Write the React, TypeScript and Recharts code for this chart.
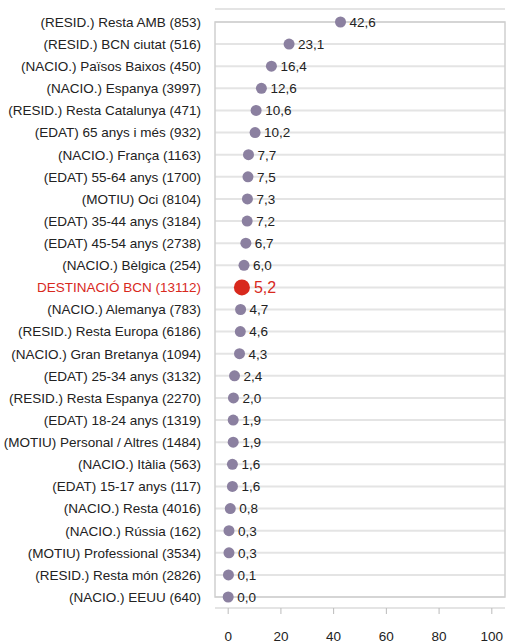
import { ComposedChart, Line, XAxis, YAxis, CartesianGrid, ReferenceArea, LabelList } from 'recharts';

const categories = [
  '(RESID.) Resta AMB (853)',
  '(RESID.) BCN ciutat (516)',
  '(NACIO.) Països Baixos (450)',
  '(NACIO.) Espanya (3997)',
  '(RESID.) Resta Catalunya (471)',
  '(EDAT) 65 anys i més (932)',
  '(NACIO.) França (1163)',
  '(EDAT) 55-64 anys (1700)',
  '(MOTIU) Oci (8104)',
  '(EDAT) 35-44 anys (3184)',
  '(EDAT) 45-54 anys (2738)',
  '(NACIO.) Bèlgica (254)',
  'DESTINACIÓ BCN (13112)',
  '(NACIO.) Alemanya (783)',
  '(RESID.) Resta Europa (6186)',
  '(NACIO.) Gran Bretanya (1094)',
  '(EDAT) 25-34 anys (3132)',
  '(RESID.) Resta Espanya (2270)',
  '(EDAT) 18-24 anys (1319)',
  '(MOTIU) Personal / Altres (1484)',
  '(NACIO.) Itàlia (563)',
  '(EDAT) 15-17 anys (117)',
  '(NACIO.) Resta (4016)',
  '(NACIO.) Rússia (162)',
  '(MOTIU) Professional (3534)',
  '(RESID.) Resta món (2826)',
  '(NACIO.) EEUU (640)',
];

const values = [
  42.6, 23.1, 16.4, 12.6, 10.6, 10.2, 7.7, 7.5, 7.3, 7.2, 6.7, 6.0, 5.2, 4.7,
  4.6, 4.3, 2.4, 2.0, 1.9, 1.9, 1.6, 1.6, 0.8, 0.3, 0.3, 0.1, 0.0,
];

const highlight = 'DESTINACIÓ BCN (13112)';
const xTicks = [0, 20, 40, 60, 80, 100];

const FONT = '"Liberation Sans", Arial, sans-serif';
const DOT = '#8b80a0';
const RED = '#d8291d';
const TEXT = '#222';

const data = categories.map((name, i) => ({ name, value: values[i] }));

const fmt = (v: number) => v.toFixed(1).replace('.', ',');

function CategoryTick(props: any) {
  const { x, y, payload } = props;
  const isHi = payload.value === highlight;
  return (
    <text
      x={x}
      y={y}
      dy="0.36em"
      textAnchor="end"
      fontSize={13.5}
      fontFamily={FONT}
      fill={isHi ? RED : TEXT}
    >
      {payload.value}
    </text>
  );
}

function renderDot(props: any) {
  const { cx, cy, payload, index } = props;
  const isHi = payload.name === highlight;
  return (
    <circle
      key={`dot-${index}`}
      cx={cx}
      cy={cy}
      r={isHi ? 8 : 5.5}
      fill={isHi ? RED : DOT}
      stroke="none"
    />
  );
}

function renderValue(props: any) {
  const { x, y, value, index } = props;
  const isHi = categories[index] === highlight;
  return (
    <text
      x={x + (isHi ? 12 : 9)}
      y={y}
      dy="0.36em"
      fontSize={isHi ? 16 : 13.5}
      fontFamily={FONT}
      fill={isHi ? RED : TEXT}
    >
      {fmt(value)}
    </text>
  );
}

export default function App() {
  return (
    <div style={{ position: 'absolute', left: 0, top: 0, background: '#fff' }}>
      <ComposedChart
        width={506}
        height={643}
        layout="vertical"
        data={data}
        margin={{ top: 9, right: 1, bottom: 0, left: 0 }}
      >
        <CartesianGrid horizontal vertical={false} stroke="#e4e4e4" strokeWidth={2} />
        <ReferenceArea x1={-5} x2={105} fill="none" stroke="#cfcfcf" strokeWidth={1.5} ifOverflow="visible" />
        <XAxis
          type="number"
          domain={[-5, 105]}
          ticks={xTicks}
          allowDataOverflow
          axisLine={false}
          tickSize={6}
          tickMargin={17}
          height={35}
          tickLine={{ stroke: '#bbb' }}
          tick={{ fontSize: 13.5, fontFamily: FONT, fill: TEXT }}
        />
        <YAxis
          type="category"
          dataKey="name"
          width={215}
          axisLine={false}
          tickLine={false}
          tickMargin={8}
          interval={0}
          padding={{ top: 13, bottom: 11 }}
          tick={<CategoryTick />}
        />
        <Line
          dataKey="value"
          stroke="none"
          dot={renderDot}
          activeDot={false}
          isAnimationActive={false}
        >
          <LabelList dataKey="value" content={renderValue} />
        </Line>
      </ComposedChart>
    </div>
  );
}
